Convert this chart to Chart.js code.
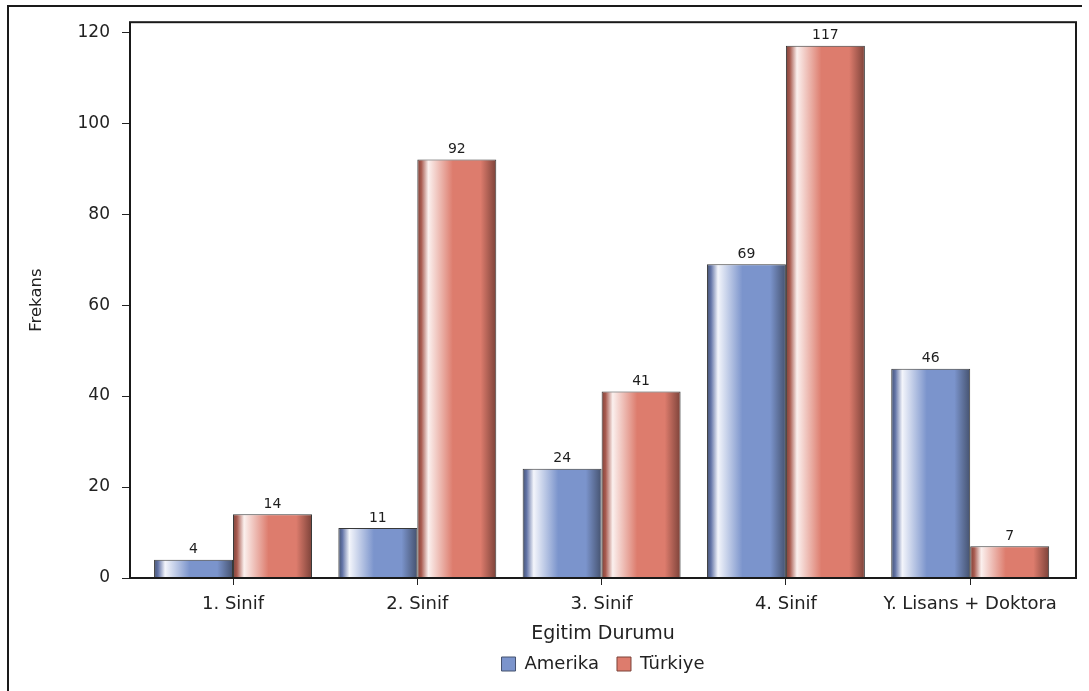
<!DOCTYPE html>
<html lang="tr">
<head>
<meta charset="UTF-8">
<title>Egitim Durumu</title>
<script src="https://cdn.jsdelivr.net/npm/chart.js@4"></script>
<style>
  body { margin: 0; background: #fff; }
  .wrap { position: relative; width: 1089px; height: 691px; overflow: hidden; }
  .frame {
    position: absolute; left: 7px; top: 5px; width: 1073px; height: 2000px;
    border-left: 2px solid #1a1a1a; border-top: 2px solid #1a1a1a;
  }
  canvas { position: absolute; left: 0; top: 0; }
</style>
</head>
<body>
<div class="wrap">
  <div class="frame"></div>
  <canvas id="chart" width="1089" height="691"></canvas>
</div>
<script>
const categories = ["1. Sinif", "2. Sinif", "3. Sinif", "4. Sinif", "Y. Lisans + Doktora"];
const amerika = [4, 11, 24, 69, 46];
const turkiye = [14, 92, 41, 117, 7];
const seriesNames = ["Amerika", "Türkiye"];

const FONT = "'DejaVu Sans', sans-serif";
const CAT_PCT = 0.857;
const X_MIN = -0.559, X_MAX = 4.574;

// dark edge -> white highlight -> base colour -> dark edge
const blueShade = { dark: "#45526f", mid: "#6273a6", white: "#f3f5fb", base: "#7b94cc" };
const redShade  = { dark: "#7c4239", mid: "#a85a4f", white: "#fbf0ee", base: "#dd7c6d" };

function barFill(shade) {
  return function (c) {
    const chart = c.chart;
    const xs = chart.scales.x;
    if (c.type !== "data" || !xs) return shade.base;
    const step = xs.getPixelForValue(1) - xs.getPixelForValue(0);
    const groupW = step * CAT_PCT;
    const barW = groupW / 2;
    const left = xs.getPixelForValue(c.dataIndex) - groupW / 2 + c.datasetIndex * barW;
    const g = chart.ctx.createLinearGradient(left, 0, left + barW, 0);
    g.addColorStop(0, shade.dark);
    g.addColorStop(0.05, shade.mid);
    g.addColorStop(0.14, shade.white);
    g.addColorStop(0.45, shade.base);
    g.addColorStop(0.8, shade.base);
    g.addColorStop(1, shade.dark);
    return g;
  };
}

const plotFrame = {
  id: "plotFrame",
  afterDatasetsDraw(chart) {
    const { ctx, chartArea: a } = chart;
    ctx.save();
    ctx.strokeStyle = "#1a1a1a";
    ctx.lineWidth = 2;
    ctx.strokeRect(a.left, a.top, a.right - a.left, a.bottom - a.top);
    ctx.restore();
  }
};

const valueLabels = {
  id: "valueLabels",
  afterDatasetsDraw(chart) {
    const ctx = chart.ctx;
    ctx.save();
    ctx.font = "14px " + FONT;
    ctx.fillStyle = "#1e1e1e";
    ctx.textAlign = "center";
    ctx.textBaseline = "bottom";
    chart.data.datasets.forEach((ds, i) => {
      chart.getDatasetMeta(i).data.forEach((bar, j) => {
        ctx.fillText(ds.data[j].y, bar.x, bar.y - 3);
      });
    });
    ctx.restore();
  }
};

// centre the legend under the plot area and lift it a little
const legendUnderPlot = {
  id: "legendUnderPlot",
  afterLayout(chart) {
    const lg = chart.legend;
    if (!lg) return;
    lg.left = chart.chartArea.left;
    lg.right = chart.chartArea.right;
    lg.top -= 8;
    lg.bottom -= 8;
  }
};

new Chart(document.getElementById("chart"), {
  type: "bar",
  data: {
    datasets: [
      {
        label: seriesNames[0],
        data: amerika.map((v, i) => ({ x: i, y: v })),
        backgroundColor: barFill(blueShade),
        borderColor: "#383838",
        borderWidth: 1,
        legendFill: blueShade.base,
        legendStroke: blueShade.dark
      },
      {
        label: seriesNames[1],
        data: turkiye.map((v, i) => ({ x: i, y: v })),
        backgroundColor: barFill(redShade),
        borderColor: "#383838",
        borderWidth: 1,
        legendFill: redShade.base,
        legendStroke: redShade.dark
      }
    ]
  },
  options: {
    responsive: false,
    animation: false,
    categoryPercentage: CAT_PCT,
    barPercentage: 1,
    layout: { padding: { left: 0, top: 21, right: 13, bottom: 0 } },
    plugins: {
      tooltip: { enabled: false },
      legend: {
        position: "bottom",
        labels: {
          font: { family: FONT, size: 18 },
          color: "#222",
          boxWidth: 14,
          boxHeight: 14,
          padding: 18,
          generateLabels(chart) {
            return chart.data.datasets.map((ds, i) => ({
              text: ds.label,
              fillStyle: ds.legendFill,
              strokeStyle: ds.legendStroke,
              lineWidth: 1,
              fontColor: "#222",
              datasetIndex: i
            }));
          }
        }
      }
    },
    scales: {
      x: {
        type: "linear",
        min: X_MIN,
        max: X_MAX,
        offset: false,
        grid: { offset: false, drawOnChartArea: false, drawTicks: true, tickLength: 7, color: "#222", lineWidth: 1 },
        border: { display: false },
        ticks: {
          stepSize: 1,
          includeBounds: false,
          autoSkip: false,
          maxRotation: 0,
          padding: 9,
          color: "#222",
          font: { family: FONT, size: 18 },
          callback: v => categories[v]
        },
        title: {
          display: true,
          text: "Egitim Durumu",
          color: "#222",
          font: { family: FONT, size: 19 },
          padding: { top: 4, bottom: 0 }
        },
        afterFit(s) {
          s.height = s.chart.height - 578 - s.chart.legend.height;
        }
      },
      y: {
        min: 0,
        max: 122.2,
        grid: { drawOnChartArea: false, drawTicks: true, tickLength: 8, color: "#222", lineWidth: 1 },
        border: { display: false },
        ticks: {
          stepSize: 20,
          includeBounds: false,
          padding: 12,
          color: "#222",
          font: { family: FONT, size: 17 }
        },
        title: {
          display: true,
          text: "Frekans",
          color: "#222",
          font: { family: FONT, size: 16.5 },
          padding: { top: 27, bottom: 0 }
        },
        afterFit(s) {
          s.width = 130;
        }
      }
    }
  },
  plugins: [plotFrame, valueLabels, legendUnderPlot]
});
</script>
</body>
</html>
